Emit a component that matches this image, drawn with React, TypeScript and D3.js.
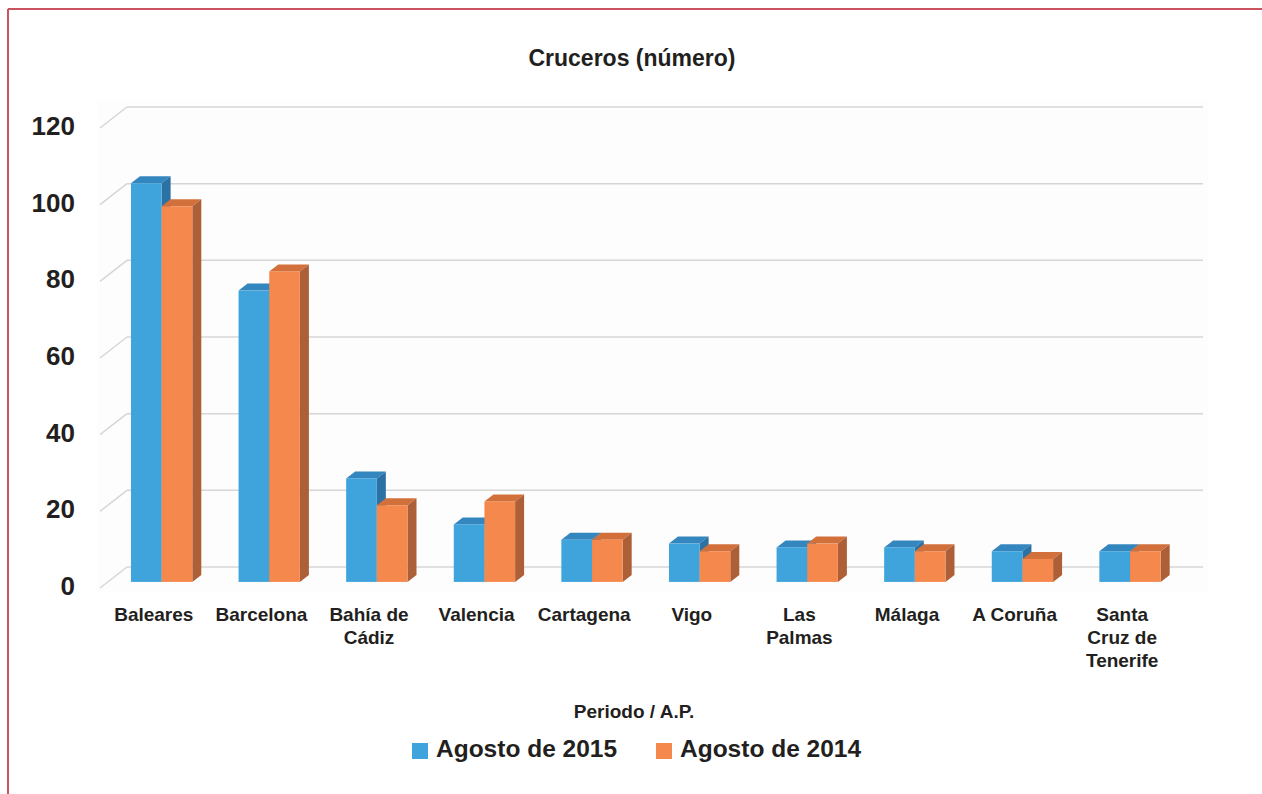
import React from "react";
import * as d3 from "d3";

// data
const categories = [
  ["Baleares"],
  ["Barcelona"],
  ["Bahía de", "Cádiz"],
  ["Valencia"],
  ["Cartagena"],
  ["Vigo"],
  ["Las", "Palmas"],
  ["Málaga"],
  ["A Coruña"],
  ["Santa", "Cruz de", "Tenerife"],
];
const seriesNames = ["Agosto de 2015", "Agosto de 2014"];
const agosto2015 = [104, 76, 27, 15, 11, 10, 9, 9, 8, 8];
const agosto2014 = [98, 81, 20, 21, 11, 8, 10, 8, 6, 8];
const yTicks = [0, 20, 40, 60, 80, 100, 120];

const W = 1262;
const H = 794;
const FONT = "'Liberation Sans', Arial, sans-serif";
const TXT = "#231f20";

// back wall and 3d offsets
const X0 = 127;
const X1 = 1203;
const DX = 27; // floor depth (front is left/down)
const DY = 21;
const BAR_SHIFT = 0.71; // bars sit this far toward the front
const BDX = 9; // bar depth
const BDY = 7;

const colors = [
  { front: "#3fa3dc", top: "#3486bf", side: "#2c71a3" },
  { front: "#f5884d", top: "#d2703b", side: "#ad5f38" },
];

export default function App() {
  const keys = categories.map((c) => c.join(" "));
  const x0 = d3.scaleBand<string>().domain(keys).range([X0, X1]).paddingInner(0.43).paddingOuter(0.215);
  const x1 = d3.scaleBand<string>().domain(seriesNames).range([0, x0.bandwidth()]);
  const y = d3.scaleLinear().domain([0, 120]).range([567, 107]);
  const values = [agosto2015, agosto2014];
  const sx = -DX * BAR_SHIFT;
  const sy = DY * BAR_SHIFT;

  return (
    <svg width={W} height={H} style={{ position: "absolute", left: 0, top: 0 }} fontFamily={FONT}>
      <rect width={W} height={H} fill="#fff" />
      <line x1={8} y1={9} x2={W} y2={9} stroke="#c9545f" strokeWidth={2} />
      <line x1={8} y1={9} x2={8} y2={H} stroke="#c9545f" strokeWidth={2} />
      <rect x={97} y={100} width={1111} height={492} fill="#fdfdfd" />

      <text x={632} y={60} textAnchor="middle" dominantBaseline="middle" fontSize={23} fontWeight="bold" fill={TXT}>
        Cruceros (número)
      </text>

      {yTicks.map((t) => (
        <g key={t}>
          <line x1={X0} x2={X1} y1={y(t)} y2={y(t)} stroke="#d6d6d6" strokeWidth={1.5} />
          <line x1={X0 - DX} y1={y(t) + DY} x2={X0} y2={y(t)} stroke="#d6d6d6" strokeWidth={1.5} />
          <text x={75} y={y(t) + DY} textAnchor="end" dominantBaseline="middle" fontSize={26} fontWeight="bold" fill={TXT}>
            {t}
          </text>
        </g>
      ))}

      {keys.map((k, i) => (
        <g key={k}>
          {seriesNames.map((s, j) => {
            const v = values[j][i];
            const bx = (x0(k) as number) + (x1(s) as number) + sx;
            const bw = x1.bandwidth();
            const by = y(v) + sy;
            const base = y(0) + sy;
            const c = colors[j];
            return (
              <g key={s}>
                <path
                  d={`M${bx},${by}L${bx + BDX},${by - BDY}L${bx + bw + BDX},${by - BDY}L${bx + bw},${by}Z`}
                  fill={c.top}
                />
                <path
                  d={`M${bx + bw},${by}L${bx + bw + BDX},${by - BDY}L${bx + bw + BDX},${base - BDY}L${bx + bw},${base}Z`}
                  fill={c.side}
                />
                <rect x={bx} y={by} width={bw} height={base - by} fill={c.front} />
              </g>
            );
          })}
          {categories[i].map((line, li) => (
            <text
              key={li}
              x={(x0(k) as number) + x0.bandwidth() / 2 - DX}
              y={616 + li * 23}
              textAnchor="middle"
              dominantBaseline="middle"
              fontSize={19}
              fontWeight="bold"
              fill={TXT}
            >
              {line}
            </text>
          ))}
        </g>
      ))}

      <text x={634} y={713} textAnchor="middle" dominantBaseline="middle" fontSize={19} fontWeight="bold" fill={TXT}>
        Periodo / A.P.
      </text>
      {seriesNames.map((s, j) => {
        const lx = j === 0 ? 412 : 656;
        return (
          <g key={s}>
            <rect x={lx} y={743} width={16} height={16} fill={colors[j].front} />
            <text x={lx + 24} y={751} dominantBaseline="middle" fontSize={24.5} fontWeight="bold" fill={TXT}>
              {s}
            </text>
          </g>
        );
      })}
    </svg>
  );
}
